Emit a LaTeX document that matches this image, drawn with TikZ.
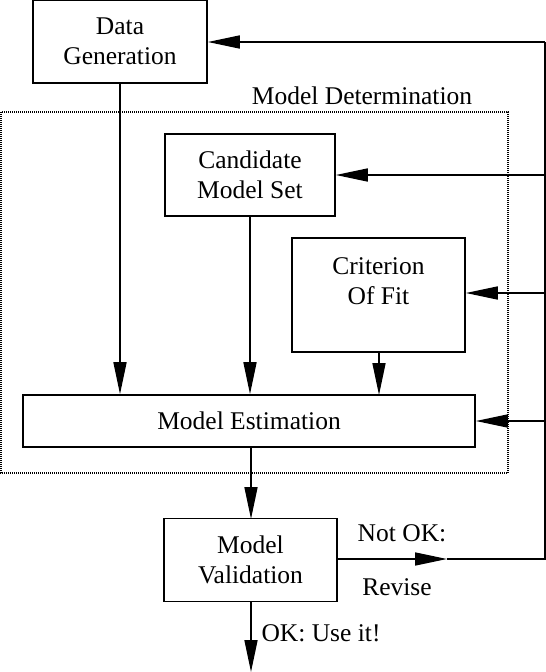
\documentclass[tikz,border=0pt]{standalone}
\usepackage{fontspec}
\setmainfont{Liberation Serif}
\usetikzlibrary{arrows.meta}
\begin{document}
\begin{tikzpicture}[x=1pt,y=-1pt,
  box/.style={draw,line width=1.6pt,inner sep=0pt,align=center,font=\fontsize{25.5}{30}\selectfont},
  txt/.style={inner sep=0pt,align=center,font=\fontsize{25.5}{30}\selectfont},
  conn/.style={line width=1.6pt},
  arr/.style={line width=1.6pt,-{Triangle[length=32pt,width=13pt]}},
  dotbox/.style={line width=1.6pt,dash pattern=on 1pt off 1pt}]
\useasboundingbox (0,0) rectangle (546,672);
% boxes
\node[box,minimum width=174pt,minimum height=83pt] (dg) at (120,41.5) {Data\\Generation};
\node[box,minimum width=170pt,minimum height=82pt] (cms) at (250,175) {Candidate\\Model Set};
\node[box,minimum width=173pt,minimum height=114pt] (cof) at (378.5,295) {};
\node[txt] (coftext) at (378.5,281) {Criterion\\Of Fit};
\node[box,minimum width=452pt,minimum height=52pt] (me) at (249,421) {Model Estimation};
\node[box,minimum width=173pt,minimum height=83pt] (mv) at (250.5,560) {Model\\Validation};
% dotted group
\draw[dotbox] (1,112) rectangle (508,473);
\node[txt] (mdlabel) at (362,96) {Model Determination};
% down arrows
\draw[arr] (dg.south) -- (dg.south |- me.north);
\draw[arr] (cms.south) -- (cms.south |- me.north);
\draw[arr] (379,352) -- (379,395);
\draw[arr] (251,447) -- (251,519);
\coordinate (out) at (251,672);
\draw[arr] (251,602) -- (out);
\node[txt] (ok) at (321,633) {OK: Use it!};
% feedback loop
\coordinate (mid) at (447,559);
\coordinate (corner1) at (545,559);
\coordinate (corner2) at (545,42);
\draw[arr] (mv.east |- mid) -- (mid);
\draw[conn] (mid) -- (corner1) -- (corner2);
\draw[arr] (corner2) -- (dg.east |- corner2);
\draw[arr] (545,175) -- (cms.east |- 0,175);
\draw[arr] (545,293) -- (cof.east |- 0,293);
\draw[arr] (545,421) -- (me.east |- 0,421);
\node[txt] (notok) at (402,533) {Not OK:};
\node[txt] (revise) at (397,587) {Revise};
\end{tikzpicture}
\end{document}
